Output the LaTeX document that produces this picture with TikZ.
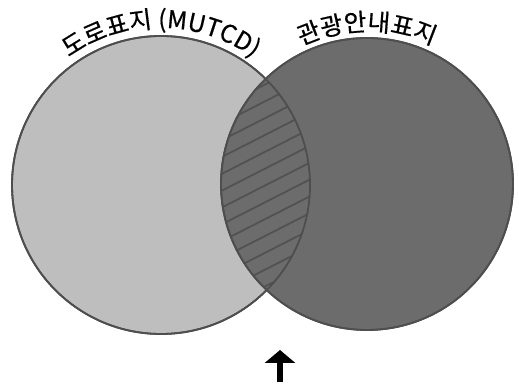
\documentclass[tikz,border=0pt]{standalone}
\usepackage{fontspec}
\newfontfamily\krfont[FakeBold=0.6]{Noto Sans CJK KR}
\usetikzlibrary{decorations.text, arrows.meta}
\definecolor{lightfill}{RGB}{190,190,190}
\definecolor{darkfill}{RGB}{108,108,108}
\definecolor{outlinec}{RGB}{78,78,78}
\definecolor{hatchc}{RGB}{82,82,82}
\begin{document}
\begin{tikzpicture}[x=1pt,y=1pt,
  venn/.style={circle, draw=outlinec, line width=1.8pt, inner sep=0pt, minimum size=#1},
  ring/.style={draw=outlinec, line width=1.8pt},
  hatchline/.style={draw=hatchc, line width=1.8pt},
  arctext/.style={decorate, decoration={text along path, text align=center, text={#1}}},
  upArrow/.style={line width=6.5pt, -{Triangle[width=30pt,length=13pt]}}]
\useasboundingbox (0,0) rectangle (519,387);
\node[venn=298pt, fill=lightfill] (L) at (161,202) {};
\node[venn=292pt, fill=darkfill] (R) at (367,203) {};
\begin{scope}
  \clip (L.center) circle[radius=149];
  \clip (R.center) circle[radius=146];
  \begin{scope}[shift={(266,202)}, rotate=27]
    \foreach \i in {-12,...,12}
      \draw[hatchline] (-160,\i*15) -- (160,\i*15);
  \end{scope}
\end{scope}
\draw[ring] (L.center) circle[radius=149];
\draw[ring] (R.center) circle[radius=146];
\path[arctext={|\krfont\fontsize{24.5}{24.5}\selectfont|도로표지 (MUTCD)}]
  ([shift={(165:157)}]L.center) arc[start angle=165, end angle=15, radius=157];
\path[arctext={|\krfont\fontsize{24.5}{24.5}\selectfont|관광안내표지}]
  ([shift={(165:153)}]R.center) arc[start angle=165, end angle=15, radius=153];
\coordinate (abase) at (280,5);
\coordinate (atip) at (280,37);
\draw[upArrow] (abase) -- (atip);
\end{tikzpicture}
\end{document}
